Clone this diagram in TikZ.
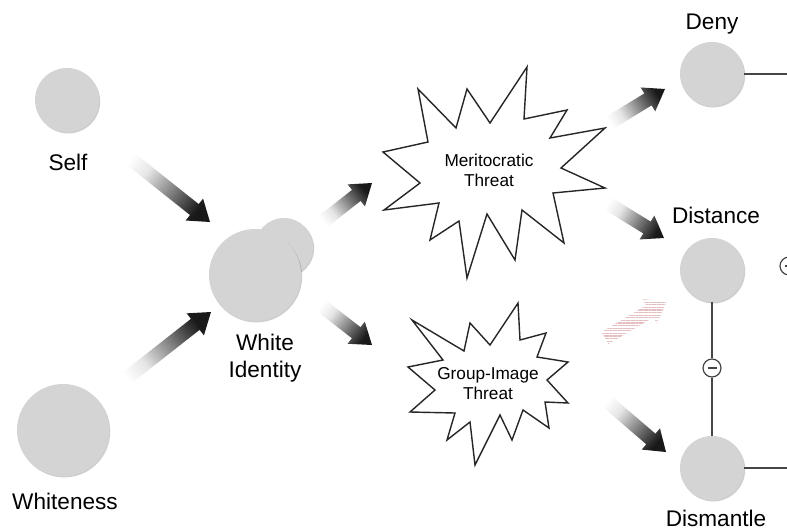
\documentclass[tikz,border=0pt]{standalone}
\usepackage{fontspec}
\setmainfont{Liberation Sans}
\usetikzlibrary{calc,patterns.meta,shadows}
\definecolor{circfill}{RGB}{212,212,212}
\definecolor{linegray}{RGB}{70,70,70}
\definecolor{hatchred}{RGB}{228,190,190}
\pgfdeclarehorizontalshading{arrowshade}{100bp}{color(0bp)=(white); color(25bp)=(white); color(38bp)=(black!10); color(75bp)=(black!90); color(100bp)=(black!90)}
\newcommand\fatarrow[3]{%
  \pgfmathanglebetweenpoints{\pgfpointanchor{#2}{center}}{\pgfpointanchor{#3}{center}}%
  \edef\arang{\pgfmathresult}%
  \coordinate (#2-#3-b) at ($(#3)!20pt!(#2)$);
  \path[#1] ($(#2)!7pt!90:(#3)$)
    -- ($(#2-#3-b)!7pt!90:(#3)$)
    -- ($(#2-#3-b)!14pt!90:(#3)$)
    -- (#3)
    -- ($(#2-#3-b)!14pt!-90:(#3)$)
    -- ($(#2-#3-b)!7pt!-90:(#3)$)
    -- ($(#2)!7pt!-90:(#3)$) -- cycle;
}
\tikzset{
  ball/.style={circle, fill=circfill, inner sep=0pt, minimum size=#1,
    drop shadow={shadow xshift=1.2pt, shadow yshift=-1.4pt, opacity=0.35, fill=black!55}},
  lbl/.style={font=\fontsize{22.6}{27}\selectfont, anchor=base, inner sep=0pt},
  threatlbl/.style={font=\fontsize{17.2}{20}\selectfont, align=center, anchor=north, inner sep=0pt},
  starline/.style={draw=black!85, line width=1.4pt, fill=white, line join=miter},
  gradarrow/.style={shade, shading=arrowshade, shading angle=\arang},
  hatcharrow/.style={pattern={Lines[angle=0,distance=2.6pt,line width=1.1pt]}, pattern color=hatchred},
  link/.style={draw=linegray, line width=1.2pt},
  minusnode/.style={circle, draw=linegray, line width=1.2pt, fill=white, inner sep=0pt, minimum size=18pt,
    path picture={\draw[linegray, line width=1.4pt] ([xshift=-4.5pt]path picture bounding box.center) -- ([xshift=4.5pt]path picture bounding box.center);}}
}
\begin{document}
\begin{tikzpicture}[x=1pt, y=-1pt]
\useasboundingbox (0,0) rectangle (787,531);
\fill[white] (0,0) rectangle (787,531);

% arrow end points
\coordinate (a1t) at (122,152); \coordinate (a1h) at (210,222);
\coordinate (a2t) at (118,385); \coordinate (a2h) at (211,312);
\coordinate (a3t) at (320,224); \coordinate (a3h) at (372,183);
\coordinate (a4t) at (318,303); \coordinate (a4h) at (372,345);
\coordinate (a5t) at (606,125); \coordinate (a5h) at (665,89);
\coordinate (a6t) at (604,201); \coordinate (a6h) at (664,238);
\coordinate (a7t) at (602,397); \coordinate (a7h) at (666,452);
\coordinate (a8t) at (605,338); \coordinate (a8h) at (667,301);

\fatarrow{gradarrow}{a1t}{a1h}
\fatarrow{gradarrow}{a2t}{a2h}
\fatarrow{gradarrow}{a3t}{a3h}
\fatarrow{gradarrow}{a4t}{a4h}
\fatarrow{gradarrow}{a5t}{a5h}
\fatarrow{gradarrow}{a6t}{a6h}
\fatarrow{gradarrow}{a7t}{a7h}
\fatarrow{hatcharrow}{a8t}{a8h}

% starbursts
\draw[starline] (418,89) -- (456,128) -- (467,89) -- (490,123) -- (527,67) -- (524,119)
  -- (567,110) -- (550,138) -- (605,128) -- (561,168) -- (605,188) -- (553,193)
  -- (564,243) -- (522,210) -- (515,260) -- (487,214) -- (467,278) -- (459,221)
  -- (430,240) -- (439,203) -- (384,210) -- (420,183) -- (383,152) -- (428,142) -- cycle;
\draw[starline] (412,320) -- (464,351) -- (470,323) -- (490,345) -- (518,303) -- (520,340)
  -- (546,333) -- (537,357) -- (568,362) -- (547,380) -- (568,403) -- (545,402)
  -- (549,428) -- (523,410) -- (512,440) -- (500,415) -- (475,465) -- (470,422)
  -- (447,440) -- (455,413) -- (410,412) -- (435,390) -- (408,367) -- (443,360) -- cycle;
\node[threatlbl] (mt) at (489,154) {Meritocratic\\Threat};
\node[threatlbl] (gt) at (488,367) {Group-Image\\Threat};

% circles
\node[ball=64pt] (self) at (67,100) {};
\node[ball=92pt] (whiteness) at (63,430) {};
\node[ball=58pt] (wiback) at (284,247) {};
\node[ball=92pt] (wi) at (255,275) {};
\node[ball=64pt] (deny) at (712,74) {};
\node[ball=64pt] (distance) at (712,270) {};
\node[ball=64pt] (dismantle) at (712,468) {};

% links
\coordinate (denyR) at (787,74);
\coordinate (dismR) at (787,468);
\node[minusnode] (m1) at (712,368) {};
\node[minusnode] (m2) at (789,266) {};
\draw[link] (deny.east) -- (denyR);
\draw[link] (dismantle.east) -- (dismR);
\draw[link] (distance.south) -- (m1.north);
\draw[link] (m1.south) -- (dismantle.north);

% labels
\node[lbl] (tself) at (68,170) {Self};
\node[lbl] (twhiteness) at (65,509) {Whiteness};
\node[lbl, align=center, anchor=north] (twi) at (265,333.5) {White\\Identity};
\node[lbl] (tdeny) at (712,29.5) {Deny};
\node[lbl] (tdistance) at (716,223) {Distance};
\node[lbl] (tdismantle) at (716,526.5) {Dismantle};
\end{tikzpicture}
\end{document}
